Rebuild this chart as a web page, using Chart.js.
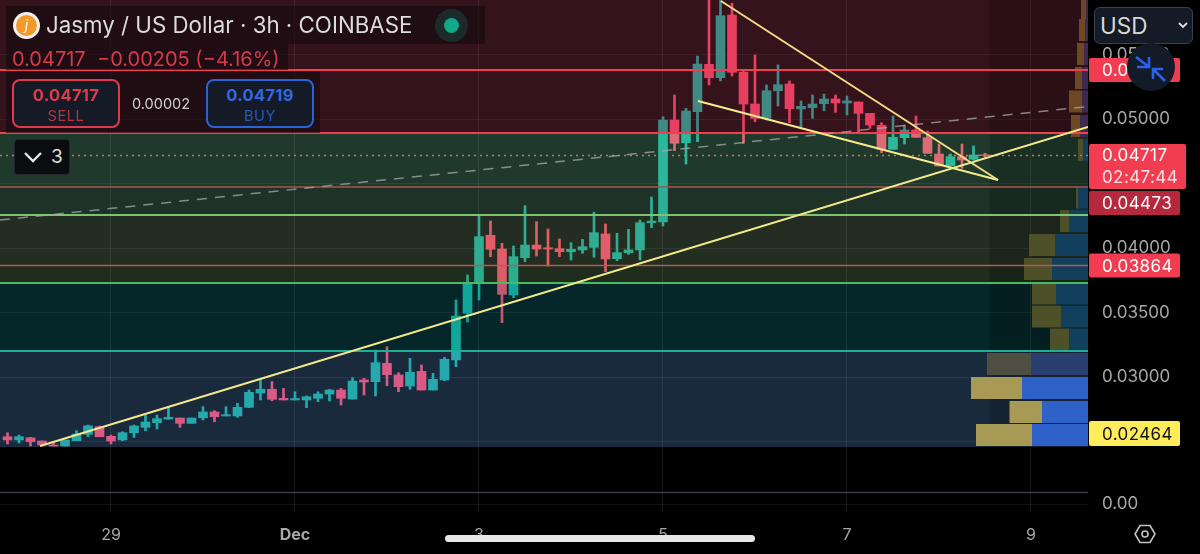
<!DOCTYPE html>
<html>
<head>
<meta charset="utf-8">
<script src="https://cdn.jsdelivr.net/npm/chart.js@4"></script>
<style>
  html, body { margin: 0; padding: 0; background: #000; width: 1200px; height: 554px; overflow: hidden; }
  body { font-family: Inter, "Noto Sans", sans-serif; position: relative; }
  canvas { position: absolute; left: 0; top: 0; }
  .ui { position: absolute; box-sizing: border-box; white-space: nowrap; }
  .panel { background: rgba(18, 8, 13, 0.6); }
  .trade { width: 108px; height: 49px; border-radius: 8px; border: 2px solid; background: #141a26; text-align: center; }
  .trade b { display: block; font-size: 16.5px; line-height: 18px; margin-top: 5px; letter-spacing: 0.3px; }
  .trade span { display: block; font-size: 14.5px; line-height: 18px; margin-top: 3px; letter-spacing: 0.6px; opacity: 0.8; }
</style>
</head>
<body>
<canvas id="chart" width="1200" height="554"></canvas>

<div class="ui panel" style="left:6px;top:6px;width:479px;height:38px"></div>
<div class="ui panel" style="left:6px;top:44px;width:282px;height:26px"></div>
<div class="ui panel" style="left:6px;top:72px;width:314px;height:61px"></div>

<div class="ui" style="left:13px;top:12px;width:27px;height:27px;border-radius:50%;background:#f4f1ee"></div>
<div class="ui" style="left:16px;top:15px;width:21px;height:21px;border-radius:50%;background:#f39a2b;color:#fff;font-size:14px;line-height:20px;text-align:center;font-style:italic">j</div>
<div class="ui" style="left:46px;top:11px;font-size:22.3px;line-height:28px;color:#dcdcdc">Jasmy / US Dollar · 3h · COINBASE</div>
<div class="ui" style="left:435px;top:9px;width:33px;height:33px;border-radius:50%;background:#1c2a2a"></div>
<div class="ui" style="left:444px;top:18px;width:15px;height:15px;border-radius:50%;background:#13a88a"></div>

<div class="ui" style="left:12px;top:47px;font-size:20px;line-height:24px;color:#d8394c">0.04717 &nbsp;−0.00205 (−4.16%)</div>

<div class="ui trade" style="left:12px;top:79px;border-color:#dd3a4e;color:#dd3a4e"><b>0.04717</b><span>SELL</span></div>
<div class="ui" style="left:132px;top:95px;font-size:14.5px;line-height:18px;color:#d2d2d2">0.00002</div>
<div class="ui trade" style="left:206px;top:79px;border-color:#2a62d8;color:#2f68e0"><b>0.04719</b><span>BUY</span></div>

<div class="ui" style="left:14px;top:139px;width:56px;height:36px;border-radius:4px;background:#0a0c10;border:1px solid #23262c"></div>
<svg class="ui" style="left:23px;top:150px" width="20" height="14"><path d="M2 3 L10 11 L18 3" fill="none" stroke="#e8e8e8" stroke-width="2.4"/></svg>
<div class="ui" style="left:51px;top:145px;font-size:19px;line-height:24px;color:#e0e0e0">3</div>

<div class="ui" style="left:1094px;top:7px;width:99px;height:37px;border-radius:6px;background:#141a26;border:1.5px solid #3a404e"></div>
<div class="ui" style="left:1100px;top:12px;font-size:22.5px;line-height:27px;color:#d8d8d8">USD</div>
<svg class="ui" style="left:1177px;top:21px" width="12" height="9"><path d="M2 2 L6 6 L10 2" fill="none" stroke="#e0e0e0" stroke-width="1.8"/></svg>

<svg class="ui" style="left:1127px;top:43px" width="48" height="48">
  <circle cx="24" cy="24" r="24" fill="#131a28"/>
  <path d="M9 14 L22 24 M22 14 L22 24 L10 24 M38 38 L26 26 M26 36 L26 26 L36 26" fill="none" stroke="#2a62f0" stroke-width="2.6"/>
</svg>

<div class="ui" style="left:445px;top:535px;width:310px;height:7px;border-radius:4px;background:#e6e6e6"></div>
<svg class="ui" style="left:1133px;top:523px" width="24" height="22">
  <path d="M7 2.5 L17 2.5 L22 11 L17 19.5 L7 19.5 L2 11 Z" fill="none" stroke="#c4c4c4" stroke-width="1.6"/>
  <circle cx="12" cy="11" r="3" fill="none" stroke="#c4c4c4" stroke-width="1.6"/>
</svg>

<script>
// axis: x is the candle number, 0 = 29 Nov 00:00, 8 candles a day
const dayTicks = [0, 16, 32, 48, 64, 80];
const dayLabels = ["29", "Dec", "3", "5", "7", "9"];
const firstCandle = -9;

const opens = [
  0.02537, 0.02512, 0.02529, 0.02504, 0.02473, 0.02465, 0.02506, 0.02556, 0.02615, 0.02540,
  0.02512, 0.02568, 0.02610, 0.02646, 0.02674, 0.02682, 0.02641, 0.02684, 0.02729, 0.02698,
  0.02698, 0.02765, 0.02876, 0.02905, 0.02835, 0.02822, 0.02822, 0.02835, 0.02868, 0.02899,
  0.02829, 0.02977, 0.02964, 0.03106, 0.03016, 0.02930, 0.03044, 0.02899, 0.02977, 0.03132,
  0.03494, 0.03726, 0.04099, 0.03992, 0.03636, 0.03925, 0.04023, 0.04002, 0.03995, 0.03971,
  0.03985, 0.04005, 0.04109, 0.03917, 0.03964, 0.03985, 0.04196, 0.04202, 0.04992, 0.04816,
  0.05057, 0.05424, 0.05320, 0.05806, 0.05362, 0.05116, 0.05005, 0.05219, 0.05271, 0.05078,
  0.05088, 0.05119, 0.05155, 0.05124, 0.05132, 0.05044, 0.04951, 0.04765, 0.04855, 0.04915,
  0.04855, 0.04729, 0.04636, 0.04708, 0.04688, 0.04723
];
const highs = [
  0.02568, 0.02550, 0.02532, 0.02504, 0.02496, 0.02512, 0.02584, 0.02628, 0.02620, 0.02550,
  0.02576, 0.02628, 0.02705, 0.02705, 0.02762, 0.02682, 0.02682, 0.02770, 0.02739, 0.02770,
  0.02796, 0.02899, 0.02982, 0.02965, 0.02912, 0.02886, 0.02853, 0.02886, 0.02905, 0.02912,
  0.02995, 0.02990, 0.03209, 0.03235, 0.03033, 0.03145, 0.03093, 0.03029, 0.03153, 0.03597,
  0.03791, 0.04248, 0.04209, 0.04036, 0.04015, 0.04328, 0.04204, 0.04147, 0.04070, 0.04041,
  0.04067, 0.04277, 0.04186, 0.04114, 0.04145, 0.04217, 0.04395, 0.05018, 0.05186, 0.05083,
  0.05488, 0.05930, 0.05930, 0.05897, 0.05374, 0.05496, 0.05264, 0.05419, 0.05295, 0.05140,
  0.05186, 0.05194, 0.05186, 0.05178, 0.05132, 0.05044, 0.04971, 0.05023, 0.04953, 0.05023,
  0.04907, 0.04806, 0.04729, 0.04806, 0.04791, 0.04734
];
const lows = [
  0.02481, 0.02488, 0.02465, 0.02465, 0.02465, 0.02465, 0.02506, 0.02537, 0.02537, 0.02481,
  0.02506, 0.02532, 0.02584, 0.02597, 0.02672, 0.02610, 0.02641, 0.02667, 0.02653, 0.02698,
  0.02687, 0.02762, 0.02822, 0.02816, 0.02822, 0.02822, 0.02762, 0.02809, 0.02814, 0.02783,
  0.02829, 0.02860, 0.02853, 0.02933, 0.02886, 0.02905, 0.02899, 0.02899, 0.02971, 0.03080,
  0.03426, 0.03597, 0.03933, 0.03421, 0.03615, 0.03894, 0.03938, 0.03860, 0.03933, 0.03907,
  0.03959, 0.03928, 0.03816, 0.03902, 0.03951, 0.03907, 0.04157, 0.04171, 0.04754, 0.04651,
  0.04824, 0.05264, 0.05295, 0.05333, 0.04812, 0.04979, 0.04992, 0.05101, 0.04971, 0.04940,
  0.05005, 0.05064, 0.05052, 0.05031, 0.04902, 0.04928, 0.04739, 0.04765, 0.04806, 0.04858,
  0.04734, 0.04636, 0.04636, 0.04618, 0.04682, 0.04703
];
const closes = [
  0.02512, 0.02537, 0.02498, 0.02473, 0.02465, 0.02512, 0.02558, 0.02622, 0.02537, 0.02504,
  0.02568, 0.02620, 0.02651, 0.02677, 0.02688, 0.02641, 0.02682, 0.02729, 0.02692, 0.02708,
  0.02765, 0.02881, 0.02905, 0.02827, 0.02822, 0.02833, 0.02847, 0.02868, 0.02899, 0.02835,
  0.02969, 0.02961, 0.03111, 0.03018, 0.02925, 0.03036, 0.02899, 0.02982, 0.03137, 0.03473,
  0.03726, 0.04088, 0.03990, 0.03641, 0.03933, 0.04023, 0.03992, 0.03992, 0.03971, 0.03990,
  0.04010, 0.04119, 0.03915, 0.03964, 0.03985, 0.04196, 0.04209, 0.04992, 0.04812, 0.05062,
  0.05426, 0.05320, 0.05801, 0.05362, 0.05116, 0.05005, 0.05219, 0.05266, 0.05080, 0.05098,
  0.05116, 0.05155, 0.05124, 0.05140, 0.05044, 0.04953, 0.04765, 0.04858, 0.04915, 0.04858,
  0.04734, 0.04636, 0.04708, 0.04682, 0.04721, 0.04717
];

// price bands behind the candles, top to bottom
const zoneHighs = [0.05923, 0.04891, 0.04473, 0.04256, 0.03864, 0.03729, 0.03201];
const zoneLows = [0.04891, 0.04473, 0.04256, 0.03864, 0.03729, 0.03201, 0.02457];

const redLevels = [0.05380, 0.04891, 0.04473, 0.03864];
const greenLevels = [0.04256, 0.03729];
const tealLevels = [0.03201];
const lastPrice = 0.04717;

// trend lines as [candle, price] pairs
const upTrend = [[-6.17, 0.02465], [84.96, 0.04938]];
const fallTop = [[53.04, 0.05915], [77.13, 0.04527]];
const fallBottom = [[51.04, 0.05140], [77.13, 0.04527]];
const dashTrend = [[-9.65, 0.04217], [84.96, 0.05097]];

// volume profile rows
const volPrices = [0.02550, 0.02729, 0.02915, 0.03101, 0.03291, 0.03469, 0.03647, 0.03837, 0.04023, 0.04209, 0.04391, 0.04760, 0.04946, 0.05136, 0.05318, 0.05504, 0.05690, 0.05860];
const volUp = [56, 46, 66, 57, 18.5, 27, 32, 36, 33, 19, 10, 5, 8, 6, 6, 4, 3, 2];
const volDown = [56, 32.5, 51, 44, 19.5, 29, 24, 28, 26, 9, 2, 5, 9, 13, 7, 7, 6, 5];

// oscillator pane below the price pane
const paneLevel = [11.5];
const paneTicks = [0];

// price tags on the right
const tagPrices = [0.05380, 0.04717, 0.04473, 0.03864, 0.02464];
const tagTexts = ["0.05380", "0.04717", "0.04473", "0.03864", "0.02464"];
const countdown = "02:47:44";

const X_MIN = -9.652, X_MAX = 84.957;
const Y_TOP = 0.059225, Y_BOTTOM = 0.024574;
const VOL_UNIT = 1 / 11.5; // profile rows grow leftward from the axis
const FONT = 'Inter, "Noto Sans", sans-serif';

const ZONE_COLORS = [
    "rgba(177, 63, 93, 0.3)",
    "rgba(124, 232, 176, 0.25)",
    "rgba(120, 200, 160, 0.25)",
    "rgba(140, 180, 130, 0.25)",
    "rgba(120, 180, 120, 0.25)",
    "rgba(20, 156, 168, 0.25)",
    "rgba(104, 168, 244, 0.25)",
];
const UP = "rgb(16, 170, 150)";
const DOWN = "rgb(255, 64, 96)";

const xs = opens.map((_, i) => firstCandle + i);
const candleColor = (i) => (closes[i] >= opens[i] ? UP : DOWN);

function volColor(i, up) {
    if (i < 3) return up ? "#2f62c8" : "#a89a55";
    if (i == 3) return up ? "#2a3f6f" : "#4f4e43";
    if (volPrices[i] > 0.0489) return up ? "#3c2a52" : "#6e4823";
    return up ? "#123f5c" : "#4e5028";
}

function lineSet(points, color, width, order, dash) {
    return {
        type: "line",
        data: points.map((p) => ({ x: p[0], y: p[1] })),
        borderColor: color,
        borderWidth: width,
        borderDash: dash || [],
        pointRadius: 0,
        order: order,
        xAxisID: "x",
        yAxisID: "y",
    };
}

const levelSet = (price, color, width, dash) => lineSet([[X_MIN, price], [X_MAX, price]], color, width, 2, dash);

// one thick segment for each side of each profile row
const volSets = volPrices.flatMap((price, i) => {
    const right = X_MAX;
    const mid = right - volUp[i] * VOL_UNIT;
    const left = mid - volDown[i] * VOL_UNIT;
    return [
        lineSet([[mid, price], [right, price]], volColor(i, true), 22, 3),
        lineSet([[left, price], [mid, price]], volColor(i, false), 22, 3),
    ];
});

// the tick labels may not pull the plot area away from the canvas edge
function noPadding(axis) {
    axis.paddingTop = 0;
    axis.paddingBottom = 0;
    axis.paddingLeft = 0;
    axis.paddingRight = 0;
}

const priceTags = {
    id: "priceTags",
    afterDraw(chart) {
        const ctx = chart.ctx;
        const y = chart.scales.y;
        const styles = [
            { bg: "#f23c50", fg: "#fff", w: 91, h: 24 },
            { bg: "#f23c50", fg: "#fff", w: 97, h: 45 },
            { bg: "#b5283d", fg: "#fff", w: 91, h: 24 },
            { bg: "#f23c50", fg: "#fff", w: 91, h: 24 },
            { bg: "#ffec5a", fg: "#111", w: 91, h: 25 },
        ];
        ctx.save();
        let prevBottom = -100;
        tagPrices.forEach((price, i) => {
            const s = styles[i];
            let py = y.getPixelForValue(price);
            if (i == 1) py += 11;
            // tags push each other down and stop at the pane edge
            py = Math.min(Math.max(py, prevBottom + 2 + s.h / 2), 433.5);
            prevBottom = py + s.h / 2;
            ctx.fillStyle = s.bg;
            ctx.beginPath();
            ctx.roundRect(1089, py - s.h / 2, s.w, s.h, 2);
            ctx.fill();
            ctx.fillStyle = s.fg;
            ctx.font = "17px " + FONT;
            ctx.letterSpacing = "0.4px";
            ctx.textBaseline = "middle";
            ctx.textAlign = "left";
            if (i == 1) {
                ctx.fillText(tagTexts[i], 1102, py - 11);
                ctx.globalAlpha = 0.85;
                ctx.fillText(countdown, 1102, py + 11);
                ctx.globalAlpha = 1;
            } else {
                ctx.fillText(tagTexts[i], 1102, py + 1);
            }
        });
        ctx.restore();
    },
};

new Chart(document.getElementById("chart"), {
    data: {
        datasets: [
            {
                type: "bar",
                data: xs.map((x, i) => ({ x: x, y: [lows[i], highs[i]] })),
                backgroundColor: xs.map((_, i) => candleColor(i)),
                barThickness: 2,
                order: 7,
            },
            {
                type: "bar",
                data: xs.map((x, i) => ({ x: x, y: [opens[i], closes[i]] })),
                backgroundColor: xs.map((_, i) => candleColor(i)),
                barThickness: 9,
                order: 6,
            },
            {
                type: "bar",
                data: zoneHighs.map((h, i) => ({ x: (X_MIN + X_MAX) / 2, y: [zoneLows[i], h] })),
                backgroundColor: ZONE_COLORS,
                barThickness: 1088,
                order: 5,
            },
            {
                type: "bar",
                data: [{ x: 80.7, y: [Y_BOTTOM, Y_TOP] }],
                backgroundColor: "rgba(0, 0, 0, 0.18)",
                barThickness: 98,
                order: 4,
            },
            ...volSets,
            levelSet(redLevels[0], "#f0404f", 2),
            levelSet(redLevels[1], "#f0404f", 2),
            levelSet(redLevels[2], "#a8504e", 1.5),
            levelSet(redLevels[3], "#b85a52", 1.5),
            levelSet(greenLevels[0], "#7cc474", 2),
            levelSet(greenLevels[1], "#4cb860", 2),
            levelSet(tealLevels[0], "#1fae96", 2),
            levelSet(lastPrice, "#c9706a", 1.5, [2, 4]),
            lineSet(dashTrend, "rgba(170, 170, 170, 0.75)", 1.5, 1, [10, 8]),
            lineSet(upTrend, "#f3e98a", 2, 0),
            lineSet(fallTop, "#f3dc80", 2, 0),
            lineSet(fallBottom, "#f5ec8c", 2, 0),
            {
                type: "line",
                xAxisID: "x",
                yAxisID: "y2",
                data: [{ x: X_MIN, y: paneLevel[0] }, { x: X_MAX, y: paneLevel[0] }],
                borderColor: "#3a3c44",
                borderWidth: 1.5,
                pointRadius: 0,
                order: 2,
            },
        ],
    },
    options: {
        responsive: false,
        animation: false,
        events: [],
        layout: { padding: 0, autoPadding: false },
        plugins: { legend: { display: false }, tooltip: { enabled: false } },
        elements: { bar: { borderWidth: 0, borderSkipped: false } },
        scales: {
            x: {
                type: "linear",
                min: X_MIN,
                max: X_MAX,
                stacked: true,
                offset: false,
                border: { display: false },
                grid: { color: "rgba(255, 255, 255, 0.09)", drawTicks: false, offset: false },
                afterBuildTicks: (axis) => { axis.ticks = dayTicks.map((v) => ({ value: v })); },
                afterFit: (axis) => { axis.height = 42; noPadding(axis); },
                ticks: {
                    autoSkip: false,
                    maxRotation: 0,
                    padding: 14,
                    color: "#a8a8a8",
                    font: (c) => ({ family: FONT, size: 16, weight: c.tick && c.tick.label == "Dec" ? "bold" : "normal" }),
                    callback: (v) => dayLabels[dayTicks.indexOf(v)],
                },
            },
            y: {
                type: "linear",
                position: "right",
                stack: "panes",
                stackWeight: 447,
                stacked: false,
                min: Y_BOTTOM,
                max: Y_TOP,
                border: { display: false },
                grid: { color: "rgba(255, 255, 255, 0.07)", drawTicks: false },
                afterFit: (axis) => { axis.width = 112; noPadding(axis); },
                ticks: {
                    stepSize: 0.005,
                    includeBounds: false,
                    padding: 14,
                    color: "#a8a8a8",
                    font: { family: FONT, size: 17 },
                    // the lowest label sits behind the yellow tag and would stick out under it
                    callback: (v) => (v < 0.026 ? "" : v.toFixed(5)),
                },
            },
            y2: {
                type: "linear",
                position: "right",
                stack: "panes",
                stackWeight: 65,
                min: -8,
                max: 57,
                border: { display: false },
                grid: { color: "rgba(255, 255, 255, 0.07)", drawTicks: false },
                afterBuildTicks: (axis) => { axis.ticks = paneTicks.map((v) => ({ value: v })); },
                afterFit: (axis) => { axis.width = 112; noPadding(axis); },
                ticks: {
                    padding: 14,
                    color: "#a8a8a8",
                    font: { family: FONT, size: 17 },
                    callback: (v) => v.toFixed(2),
                },
            },
        },
    },
    plugins: [priceTags],
});
</script>
</body>
</html>
